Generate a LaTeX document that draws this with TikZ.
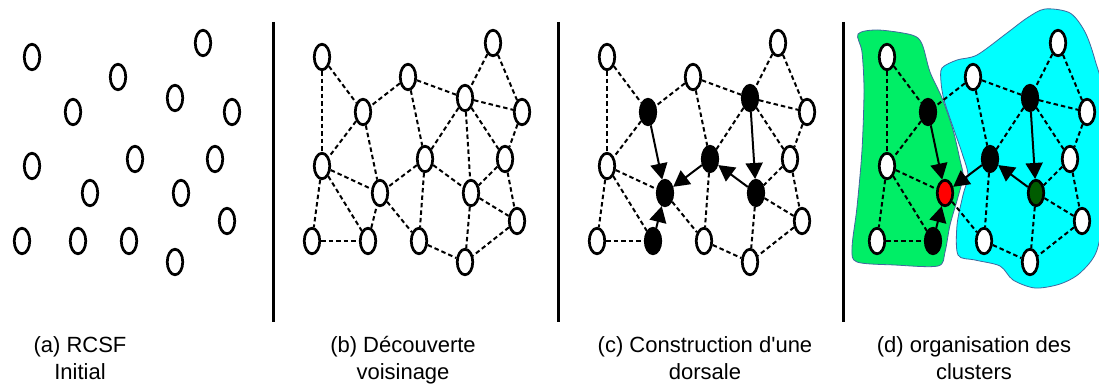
\documentclass[tikz,border=0pt]{standalone}
\usepackage{fontspec}
\setmainfont{Liberation Sans}
\usetikzlibrary{arrows.meta}
\usetikzlibrary{shapes.geometric}
\definecolor{vertcluster}{HTML}{00EE66}
\definecolor{cyancluster}{HTML}{00FFFF}
\definecolor{bordcluster}{HTML}{41679E}
\definecolor{vertfonce}{HTML}{005C00}
\tikzset{
  every node/.append style={font=\fontsize{22}{27}\selectfont},
  capteur/.style={ellipse, draw=black, line width=2.7pt, minimum width=15.5pt, minimum height=25.5pt, inner sep=0pt},
  lien/.style={line width=2pt, dash pattern=on 4.5pt off 3pt},
  separation/.style={line width=3pt},
  cluster/.style={draw=bordcluster, line width=0.8pt}
}
\tikzstyle{arrow} = [line width=2pt, -{Triangle[length=16pt,width=17pt]}]
\newcommand\reseau[5]{
  % #1 - prefix of the node names
  % #2 - horizontal shift of the panel
  % #3 - fill of the backbone nodes (4, 5, 8, 14)
  % #4 - fill of node 10
  % #5 - fill of node 11
  % for example: \reseau{c}{285}{black}{black}{black}
  \begin{scope}[xshift=#2]
    \foreach \n/\x/\y/\f in {1/322/57/white, 2/408/77/white, 3/493/43/white,
        4/363/112/#3, 5/465/98/#3, 6/522/112/white, 7/322/166/white,
        8/425/159/#3, 9/505/159/white, 10/380/193/#4, 11/471/193/#5,
        12/517/221/white, 13/312/241/white, 14/368/241/#3, 15/419/241/white,
        16/465/262/white}
      \node[capteur, fill=\f] at (\x,\y) (#1\n) {};
  \end{scope}
}
\newcommand\liens[1]{
  % #1 - prefix of the node names
  % for example: \liens{b}
  \foreach \a/\b in {1/4, 1/7, 2/4, 2/5, 2/8, 3/5, 3/6, 5/6, 5/8, 5/9, 6/9,
      4/7, 7/10, 7/13, 7/14, 8/15, 9/11, 9/12, 10/15, 11/12, 11/16, 12/16,
      13/14, 15/16}
    \draw[lien] (#1\a) -- (#1\b);
}

\begin{document}
\begin{tikzpicture}[x=1pt, y=-1pt]
  \useasboundingbox (0,0) rectangle (1099,385);

  % clusters
  \filldraw[cluster, fill=vertcluster] plot[smooth cycle] coordinates {
    (858,34) (878,30) (912,35) (922,44) (930,72) (942,98) (953,130)
    (960,160) (963,176) (958,197) (950,225) (945,252) (938,266)
    (895,265) (857,262) (852,248) (857,207) (862,150) (864,90) (862,52)};
  \filldraw[cluster, fill=cyancluster] plot[smooth cycle] coordinates {
    (942,68) (957,60) (977,55) (1007,33) (1027,18) (1045,9) (1070,13)
    (1085,32) (1095,60) (1104,100) (1104,200) (1097,250) (1080,273)
    (1060,284) (1035,288) (1013,280) (1000,266) (975,260) (958,255)
    (957,225) (963,195) (968,175) (962,153) (953,127) (944,100) (941,82)};

  \reseau{a}{-290}{white}{white}{white}
  \reseau{b}{0}{white}{white}{white}
  \reseau{c}{285}{black}{black}{black}
  \reseau{d}{565}{black}{red}{vertfonce}

  \liens{b}
  \foreach \a/\b in {4/10, 8/10, 8/11, 5/11, 14/10}
    \draw[lien] (b\a) -- (b\b);

  \liens{c}
  \draw[arrow] (c4) -- (c10);
  \draw[arrow] (c8) -- (c10);
  \draw[arrow] (c11) -- (c8);
  \draw[arrow] (c5) -- (c11);
  \draw[arrow] (c14) -- (c10);

  \liens{d}
  \draw[arrow] (d4) -- (d10);
  \draw[arrow] (d8) -- (d10);
  \draw[arrow] (d11) -- (d8);
  \draw[arrow] (d5) -- (d11);
  \draw[arrow] (d14) -- (d10);

  \draw[separation] (273,22) -- (273,322);
  \draw[separation] (558,22) -- (558,322);
  \draw[separation] (843,22) -- (843,322);

  \node[align=center, anchor=north, inner sep=0pt] (titreA) at (80,336) {(a) RCSF\\Initial};
  \node[align=center, anchor=north, inner sep=0pt] (titreB) at (403,336) {(b) Découverte\\voisinage};
  \node[align=center, anchor=north, inner sep=0pt] (titreC) at (705,336) {(c) Construction d\textquotesingle une\\dorsale};
  \node[align=center, anchor=north, inner sep=0pt] (titreD) at (974,336) {(d) organisation des\\clusters};
\end{tikzpicture}
\end{document}
